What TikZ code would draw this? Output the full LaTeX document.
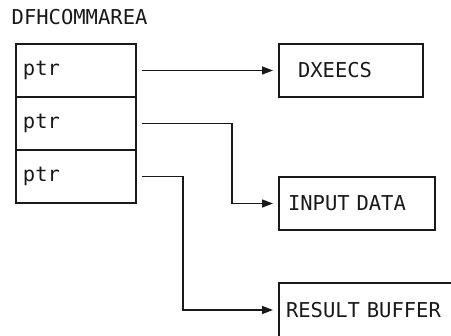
\documentclass[tikz,border=0pt]{standalone}
\usepackage{fontspec}
\setmonofont{DejaVu Sans Mono}
\usepackage{tikz}
\usetikzlibrary{arrows.meta,positioning,calc}
\tikzset{
    cell/.style={draw, rectangle, minimum width=120pt, minimum height=53pt, text width=106pt, inner xsep=7pt, outer sep=0pt},
    target/.style={draw, rectangle, minimum height=53pt, outer sep=0pt},
    pointer/.style={-{Triangle[length=11pt, width=8pt]}, shorten <=6pt, shorten >=6pt}
}

\begin{document}
\begin{tikzpicture}[x=1pt, y=-1pt, line width=1.4pt, draw=black!90, text=black!90,
        font=\ttfamily\fontsize{20.5}{24}\selectfont]
    \clip (0,0) rectangle (451,336);
    % comm area
    \node[cell] (cell1) at (76,70.5) {ptr};
    \node[cell, below=0pt of cell1] (cell2) {ptr};
    \node[cell, below=0pt of cell2] (cell3) {ptr};
    \node[above=19pt of cell1.north west, anchor=base west, xshift=-5pt, inner sep=0pt] (title) {DFHCOMMAREA};
    % targets
    \node[target, anchor=west, text width=106pt, inner xsep=19pt] (dxeecs) at (279,70.5) {DXEECS};
    \node[target, anchor=west, text width=138pt, inner xsep=9pt] (input) at (279,203.5) {INPUT DATA};
    \node[target, anchor=north west, minimum height=54pt, text width=250pt, inner xsep=7pt] (result) at (279,283) {RESULT BUFFER};
    % pointers
    \draw[pointer] (cell1.east) -- (dxeecs.west);
    \draw[pointer] (cell2.east) -| ([xshift=-47pt]input.west) -- (input.west);
    \draw[pointer] (cell3.east) -| ([xshift=-96pt]result.west) -- (result.west);
\end{tikzpicture}
\end{document}
